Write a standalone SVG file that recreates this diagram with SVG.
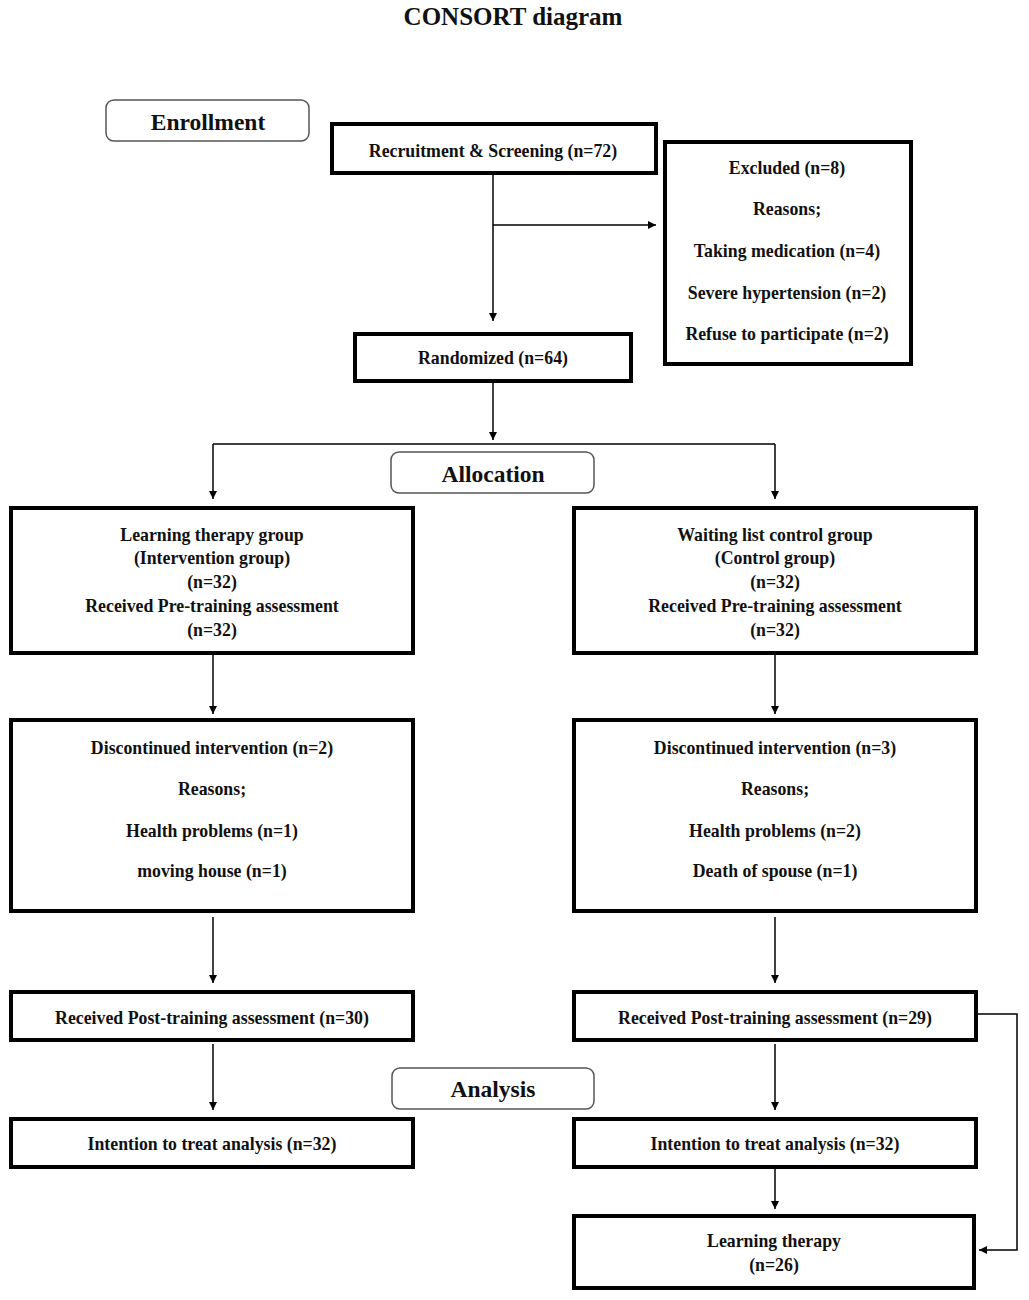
<svg xmlns="http://www.w3.org/2000/svg" width="1029" height="1300" viewBox="0 0 1029 1300">
<style>
.t{font-family:"Liberation Serif","Times New Roman",serif;font-weight:bold;fill:#111;text-anchor:middle}
.n{font-size:17.8px}
.h{font-size:23.5px}
.box{fill:#fff;stroke:#000;stroke-width:4}
.lab{fill:#fff;stroke:#555;stroke-width:1.5}
.c{fill:none;stroke:#000;stroke-width:1.5}
</style>
<defs>
<marker id="ah" viewBox="0 0 10 10" refX="10" refY="5" markerWidth="8" markerHeight="8" markerUnits="userSpaceOnUse" orient="auto">
<path d="M0,0 L10,5 L0,10 z" fill="#000"/>
</marker>
</defs>
<rect width="1029" height="1300" fill="#fff"/>
<text class="t" x="513" y="25" font-size="25" font-family="Liberation Serif, serif">CONSORT diagram</text>

<g id="connectors">
<path class="c" d="M493,173 V321" marker-end="url(#ah)"/>
<path class="c" d="M493,225 H656" marker-end="url(#ah)"/>
<path class="c" d="M493,381 V440" marker-end="url(#ah)"/>
<path class="c" d="M213,444 H775"/>
<path class="c" d="M213,444 V499" marker-end="url(#ah)"/>
<path class="c" d="M775,444 V499" marker-end="url(#ah)"/>
<path class="c" d="M213,655 V714" marker-end="url(#ah)"/>
<path class="c" d="M775,655 V714" marker-end="url(#ah)"/>
<path class="c" d="M213,917 V983" marker-end="url(#ah)"/>
<path class="c" d="M775,917 V983" marker-end="url(#ah)"/>
<path class="c" d="M213,1044 V1110" marker-end="url(#ah)"/>
<path class="c" d="M775,1044 V1110" marker-end="url(#ah)"/>
<path class="c" d="M775,1168 V1209" marker-end="url(#ah)"/>
<path class="c" d="M978,1014 H1017 V1250 H979" marker-end="url(#ah)"/>
</g>

<g id="enrollment">
<rect class="lab" x="106" y="100" width="203" height="41" rx="8"/>
<text class="t h" x="208" y="130" font-family="Liberation Serif, serif">Enrollment</text>
</g>
<g id="recruitment">
<rect class="box" x="332" y="124" width="324" height="49"/>
<text class="t n" x="493" y="157">Recruitment &amp; Screening (n=72)</text>
</g>
<g id="excluded">
<rect class="box" x="665" y="142" width="246" height="222"/>
<text class="t n" x="787" y="174">Excluded (n=8)</text>
<text class="t n" x="787" y="215">Reasons;</text>
<text class="t n" x="787" y="257">Taking medication (n=4)</text>
<text class="t n" x="787" y="299">Severe hypertension (n=2)</text>
<text class="t n" x="787" y="340">Refuse to participate (n=2)</text>
</g>
<g id="randomized">
<rect class="box" x="355" y="334" width="276" height="47"/>
<text class="t n" x="493" y="364">Randomized (n=64)</text>
</g>
<g id="allocation">
<rect class="lab" x="391" y="452" width="203" height="41" rx="8"/>
<text class="t h" x="493" y="482" font-family="Liberation Serif, serif">Allocation</text>
</g>
<g id="intervention">
<rect class="box" x="11" y="508" width="402" height="145"/>
<text class="t n" x="212" y="541">Learning therapy group</text>
<text class="t n" x="212" y="564">(Intervention group)</text>
<text class="t n" x="212" y="588">(n=32)</text>
<text class="t n" x="212" y="612">Received Pre-training assessment</text>
<text class="t n" x="212" y="636">(n=32)</text>
</g>
<g id="control">
<rect class="box" x="574" y="508" width="402" height="145"/>
<text class="t n" x="775" y="541">Waiting list control group</text>
<text class="t n" x="775" y="564">(Control group)</text>
<text class="t n" x="775" y="588">(n=32)</text>
<text class="t n" x="775" y="612">Received Pre-training assessment</text>
<text class="t n" x="775" y="636">(n=32)</text>
</g>
<g id="disc-left">
<rect class="box" x="11" y="720" width="402" height="191"/>
<text class="t n" x="212" y="754">Discontinued intervention (n=2)</text>
<text class="t n" x="212" y="795">Reasons;</text>
<text class="t n" x="212" y="837">Health problems (n=1)</text>
<text class="t n" x="212" y="877">moving house (n=1)</text>
</g>
<g id="disc-right">
<rect class="box" x="574" y="720" width="402" height="191"/>
<text class="t n" x="775" y="754">Discontinued intervention (n=3)</text>
<text class="t n" x="775" y="795">Reasons;</text>
<text class="t n" x="775" y="837">Health problems (n=2)</text>
<text class="t n" x="775" y="877">Death of spouse (n=1)</text>
</g>
<g id="post-left">
<rect class="box" x="11" y="992" width="402" height="48"/>
<text class="t n" x="212" y="1024">Received Post-training assessment (n=30)</text>
</g>
<g id="post-right">
<rect class="box" x="574" y="992" width="402" height="48"/>
<text class="t n" x="775" y="1024">Received Post-training assessment (n=29)</text>
</g>
<g id="analysis">
<rect class="lab" x="392" y="1068" width="202" height="41" rx="8"/>
<text class="t h" x="493" y="1097" font-family="Liberation Serif, serif">Analysis</text>
</g>
<g id="itt-left">
<rect class="box" x="11" y="1119" width="402" height="48"/>
<text class="t n" x="212" y="1150">Intention to treat analysis (n=32)</text>
</g>
<g id="itt-right">
<rect class="box" x="574" y="1119" width="402" height="48"/>
<text class="t n" x="775" y="1150">Intention to treat analysis (n=32)</text>
</g>
<g id="learning">
<rect class="box" x="574" y="1216" width="400" height="72"/>
<text class="t n" x="774" y="1247">Learning therapy</text>
<text class="t n" x="774" y="1271">(n=26)</text>
</g>
</svg>
